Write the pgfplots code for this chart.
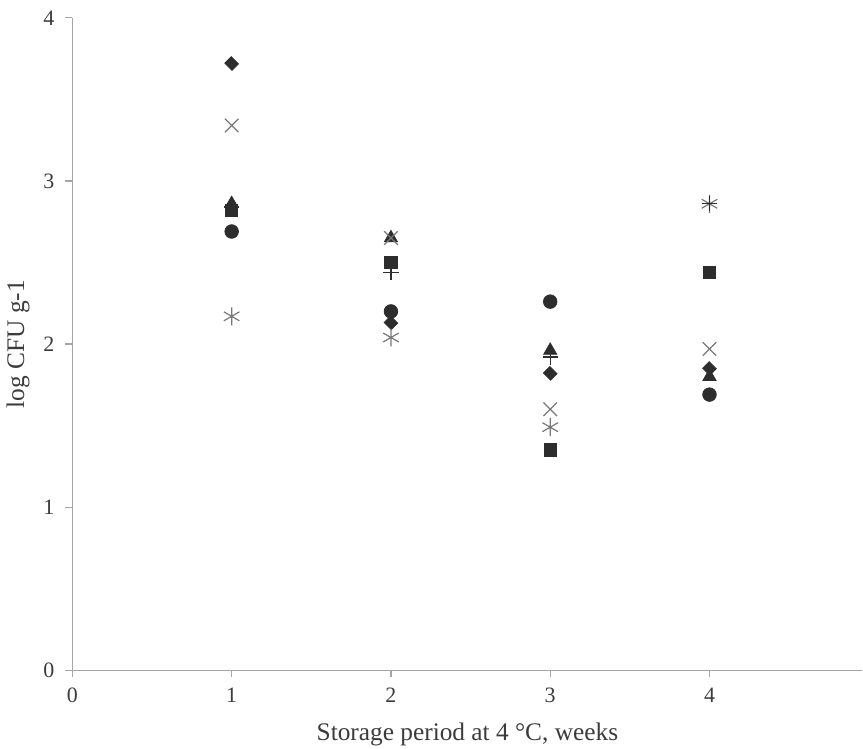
\documentclass[border=0pt]{standalone}
\usepackage{fontspec}
\setmainfont{Liberation Serif}
\usepackage{pgfplots}
\pgfplotsset{compat=1.18}
\definecolor{axgray}{RGB}{165,165,165}
\definecolor{darkmk}{RGB}{45,45,45}
\definecolor{lightmk}{RGB}{120,120,120}
\definecolor{txt}{RGB}{60,60,60}

\begin{document}
\begin{tikzpicture}
\begin{axis}[
  width=396pt, height=327pt, scale only axis,
  xmin=0, xmax=4.96, ymin=0, ymax=4,
  xtick={0,1,2,3,4}, ytick={0,1,2,3,4},
  axis x line*=bottom, axis y line*=left,
  axis line style={axgray, line width=0.6pt},
  tick align=outside, major tick length=3.5pt,
  tick style={axgray, line width=0.6pt},
  /pgf/number format/assume math mode=true,
  ticklabel style={font=\fontsize{11}{13}\selectfont, text=txt},
  yticklabel style={xshift=-2pt},
  xticklabel style={yshift=-2pt},
  xlabel={Storage period at 4 °C, weeks},
  ylabel={log CFU g-1},
  label style={font=\fontsize{12.7}{15}\selectfont, text=txt},
  xlabel style={inner sep=1pt, yshift=-5.5pt},
  ylabel style={yshift=0pt},
  only marks,
]
% diamond
\addplot[mark=square*, mark size=2.3pt, mark options={rotate=45, yscale=1.1}, darkmk, fill=darkmk]
  coordinates {(1,3.72)(2,2.13)(3,1.82)(4,1.85)};
% square
\addplot[mark=square*, mark size=3.1pt, darkmk, fill=darkmk]
  coordinates {(1,2.82)(2,2.50)(3,1.35)(4,2.44)};
% triangle
\addplot[mark=triangle*, mark size=3.8pt, darkmk, fill=darkmk]
  coordinates {(1,2.86)(2,2.65)(3,1.96)(4,1.80)};
% cross
\addplot[mark=x, mark size=4.8pt, lightmk, line width=0.6pt]
  coordinates {(1,3.34)(2,2.65)(3,1.60)(4,1.97)};
% asterisk
\addplot[mark=asterisk, mark size=4.5pt, lightmk, line width=0.6pt]
  coordinates {(1,2.17)(2,2.04)(3,1.49)(4,2.86)};
% circle
\addplot[mark=*, mark size=3.4pt, darkmk, fill=darkmk]
  coordinates {(1,2.69)(2,2.20)(3,2.26)(4,1.69)};
% plus
\addplot[mark=+, mark size=3.8pt, darkmk, line width=0.6pt]
  coordinates {(1,2.84)(2,2.44)(3,1.92)(4,2.86)};
\end{axis}
\path (current bounding box.north) ++(0,2pt);
\end{tikzpicture}
\end{document}
